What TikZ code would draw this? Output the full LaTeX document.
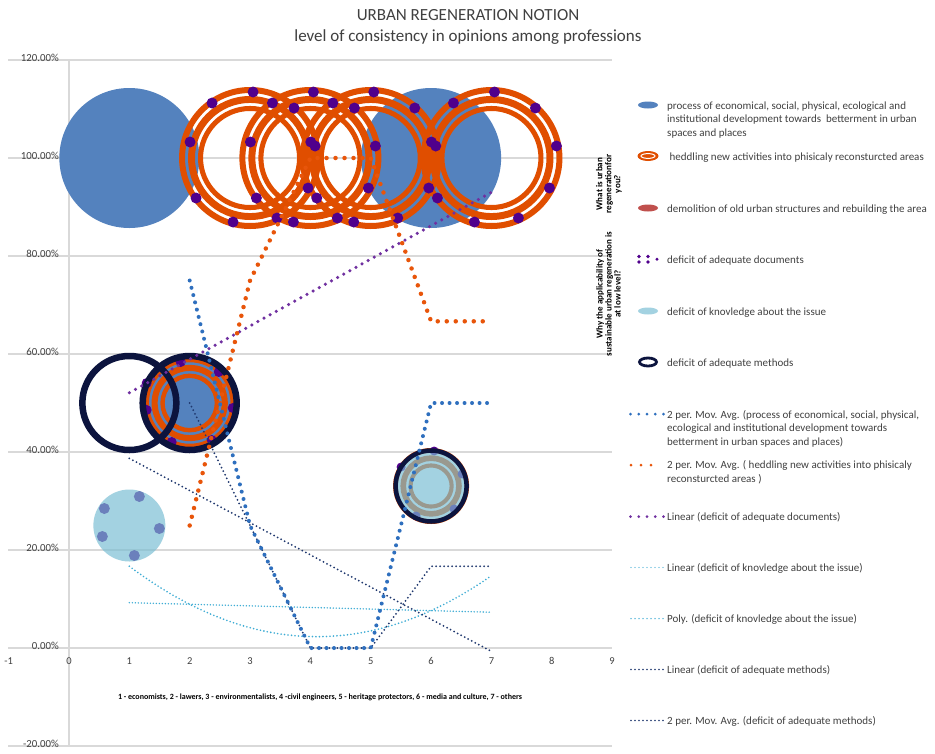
\documentclass[tikz,border=0pt]{standalone}
\usepackage{fontspec}
\setmainfont{Carlito}
\begin{document}
\begin{tikzpicture}[x=1pt,y=-1pt,
  grid/.style={draw=gridc, line width=1.3pt},
  ylab/.style={anchor=base east, text=txc, font=\fontsize{10.8}{12}\selectfont, inner sep=0pt},
  xlab/.style={anchor=base, text=txc, font=\fontsize{10.5}{12}\selectfont, inner sep=0pt},
  leg/.style={anchor=base west, text=txc, font=\fontsize{11}{13.5}\selectfont, inner sep=0pt},
  side/.style={rotate=90, align=center, text=black, font=\bfseries\fontsize{9}{9}\selectfont, inner sep=0pt},
  maB/.style={draw=mabc, line width=4pt, line cap=round, dash pattern=on 0pt off 7.5pt},
  maO/.style={draw=maoc, line width=4.5pt, line cap=round, dash pattern=on 0pt off 9pt},
  linP/.style={draw=plc, line width=3.5pt, line cap=round, dash pattern=on 0pt off 7pt},
  linC/.style={draw=cyc, line width=1.6pt, line cap=round, dash pattern=on 0pt off 3pt},
  linN/.style={draw=nlc, line width=2pt, line cap=round, dash pattern=on 0pt off 4pt},
  navring/.style={draw=nvc}
]
\definecolor{bblue}{RGB}{84,130,190}
\definecolor{oc}{RGB}{224,78,0}
\definecolor{pc}{RGB}{80,0,140}
\definecolor{lbc}{RGB}{120,189,211}
\definecolor{nvc}{RGB}{12,20,62}
\definecolor{rdc}{RGB}{192,80,77}
\definecolor{mabc}{RGB}{46,111,190}
\definecolor{maoc}{RGB}{232,85,10}
\definecolor{plc}{RGB}{112,48,160}
\definecolor{cyc}{RGB}{60,172,212}
\definecolor{nlc}{RGB}{31,56,110}
\definecolor{gridc}{RGB}{217,217,217}
\definecolor{txc}{RGB}{64,64,64}
\newcommand\oring[4]{%
  \pgfmathsetmacro\ot{#3-#4}%
  \pgfmathsetmacro\ra{#3-0.125*\ot}\pgfmathsetmacro\wa{0.25*\ot}%
  \pgfmathsetmacro\rb{#3-0.52*\ot}\pgfmathsetmacro\wb{0.29*\ot}%
  \pgfmathsetmacro\rc{#3-0.895*\ot}\pgfmathsetmacro\wc{0.21*\ot}%
  \draw[oc, line width=\wa pt] (#1,#2) circle[radius=\ra pt];
  \draw[oc, line width=\wb pt] (#1,#2) circle[radius=\rb pt];
  \draw[oc, line width=\wc pt] (#1,#2) circle[radius=\rc pt];
}
\newcommand\pdotsfull[2]{%
  \foreach \dx/\dy in {-38/-55,3/-66,44/-50,65/-12,58/30,27/60,-17/64,-54/40,-60/-16}{%
    \fill[pc] ({#1+(\dx)},{#2+(\dy)}) circle[radius=5.5pt];}%
}
\useasboundingbox (0,0) rectangle (935,753);
\fill[white] (0,0) rectangle (935,753);

% title
\node[text=txc, font=\fontsize{17}{20}\selectfont, anchor=base] (t1) at (468,20) {URBAN REGENERATION NOTION};
\node[text=txc, font=\fontsize{17}{20}\selectfont, anchor=base] (t2) at (468,41) {level of consistency in opinions among professions};

% grid
\foreach \yy/\lab in {60/120.00\%,158/100.00\%,256/80.00\%,354/60.00\%,452/40.00\%,550/20.00\%,648/0.00\%,746/-20.00\%}{%
  \draw[grid] (8,\yy) -- (612,\yy);
  \node[ylab] (yl\yy) at (59,\yy+1) {\lab};
}
\draw[grid] (69,60) -- (69,746);
\foreach \k in {-1,0,1,2,3,4,5,6,7,8,9}{%
  \node[xlab] (xl\k) at ({69+60.35*\k},664) {\k};
}
\node[text=black, font=\bfseries\fontsize{8}{9}\selectfont, anchor=base] (cat) at (320,699.5) {1 - economists, 2 - lawers, 3 - environmentalists, 4 -civil engineers, 5 - heritage protectors, 6 - media and culture, 7 - others};

% blue bubbles
\fill[bblue] (129.35,158) circle[radius=70pt];
\fill[bblue] (431.1,158) circle[radius=70pt];
\fill[bblue] (189.7,403) circle[radius=49.5pt];

% orange rings
\oring{250.05}{158}{71}{47}
\oring{310.4}{158}{71}{47}
\oring{370.75}{158}{71}{47}
\oring{491.45}{158}{71}{47}
\oring{189.7}{403}{46}{25}
\oring{431.1}{486}{38}{18.5}

% purple dots
\pdotsfull{250.05}{158}
\pdotsfull{310.4}{158}
\pdotsfull{370.75}{158}
\pdotsfull{491.45}{158}
\foreach \dx/\dy in {-9/-41,29/-31,43/5,22/37,-18/39,-43/-20,-43/7}{%
  \fill[pc] ({189.7+(\dx)},{403+(\dy)}) circle[radius=5pt];}
\foreach \dx/\dy in {3/-35,-30/-19,31/-12,23/23,-15/30}{%
  \fill[pc] ({431.1+(\dx)},{486+(\dy)}) circle[radius=4.5pt];}
\foreach \dx/\dy in {10/-29,-25/-17,30/3,-27/11,5/30}{%
  \fill[pc] ({129.35+(\dx)},{525.5+(\dy)}) circle[radius=5.5pt];}

% light blue bubbles
\fill[lbc, fill opacity=0.68] (129.35,525.5) circle[radius=36pt];
\fill[lbc, fill opacity=0.68] (431.1,486) circle[radius=36pt];

% navy rings
\draw[navring, line width=6.5pt] (129.35,403) circle[radius=47pt];
\draw[navring, line width=6.5pt] (189.7,403) circle[radius=47pt];
\draw[navring, line width=4.5pt] (431.1,486) circle[radius=35.5pt];

% trend lines
\begin{scope}[shift={(69,648)}, x=60.35pt, y=4.9pt]
  \draw[linC] (1,9.25) -- (7,7.3);
  \draw[linC, line width=1.8pt, dash pattern=on 0pt off 3.5pt] plot[domain=1:7, samples=80, smooth] (\x,{8.286-0.321*(\x-4)+1.488*((\x-4)^2-4)});
  \draw[linN] (1,38.7) -- (7,-0.7);
  \draw[linN] (2,50) -- (3,25) -- (4,0) -- (5,0) -- (6,16.67) -- (7,16.67);
  \draw[linP] (1,52.1) -- (7,93.0);
  \draw[maO] (2,25) -- (3,75) -- (4,100) -- (5,100) -- (6,66.67) -- (7,66.67);
  \draw[maB] (2,75) -- (3,25) -- (4,0) -- (5,0) -- (6,50) -- (7,50);
\end{scope}

% side labels
\node[side] (s1) at (609,184) {What is urban\\regenerationfor\\you?};
\node[side] (s2) at (608.5,294) {Why the applicability of\\sustainable urban regeneration is\\at low level?};

% legend markers
\fill[bblue] (648,105) ellipse[x radius=10pt, y radius=3.5pt];
\fill[oc] (648,156) ellipse[x radius=10.5pt, y radius=5pt];
\draw[white, line width=1pt] (648,156) ellipse[x radius=7pt, y radius=2.4pt];
\fill[rdc] (648,208) ellipse[x radius=10pt, y radius=3.5pt];
\foreach \px/\py/\pr in {639/256.5/1.9,639/262/1.9,648/256.5/1.9,648/262/1.9,657/259.3/1.6}{\fill[pc] (\px,\py) circle[radius=\pr pt];}
\fill[lbc, fill opacity=0.68] (648,311) ellipse[x radius=10pt, y radius=3.5pt];
\draw[nvc, line width=2.8pt] (648,362) ellipse[x radius=8.5pt, y radius=4pt];
\coordinate (m7a) at (630.5,414); \coordinate (m7b) at (663.5,414);
\draw[mabc, line width=3pt, line cap=round, dash pattern=on 0pt off 8.25pt] (m7a) -- (m7b);
\coordinate (m8a) at (631,465); \coordinate (m8b) at (661,465);
\draw[maoc, line width=3pt, line cap=round, dash pattern=on 0pt off 10pt] (m8a) -- (m8b);
\coordinate (m9a) at (630.5,516.5); \coordinate (m9b) at (663.5,516.5);
\draw[plc, line width=3pt, line cap=round, dash pattern=on 0pt off 8.25pt] (m9a) -- (m9b);
\coordinate (m10a) at (631,567.5); \coordinate (m10b) at (663,567.5);
\draw[cyc, line width=1.3pt, line cap=round, dash pattern=on 0pt off 4pt] (m10a) -- (m10b);
\coordinate (m11a) at (631,618.5); \coordinate (m11b) at (663,618.5);
\draw[cyc, line width=1.5pt, line cap=round, dash pattern=on 0pt off 4pt] (m11a) -- (m11b);
\coordinate (m12a) at (631,669.5); \coordinate (m12b) at (663,669.5);
\draw[nlc, line width=1.6pt, line cap=round, dash pattern=on 0pt off 4pt] (m12a) -- (m12b);
\coordinate (m13a) at (631,720.5); \coordinate (m13b) at (663,720.5);
\draw[nlc, line width=1.6pt, line cap=round, dash pattern=on 0pt off 4pt] (m13a) -- (m13b);

% legend text
\node[leg] (l1a) at (667,109) {process of economical, social, physical, ecological and};
\node[leg] (l1b) at (667,122.5) {institutional development towards\ \ betterment in urban};
\node[leg] (l1c) at (667,136) {spaces and places};
\node[leg] (l2) at (667,160) {\ heddling new activities into phisicaly reconsturcted areas};
\node[leg] (l3) at (667,212) {demolition of old urban structures and rebuilding the area};
\node[leg] (l4) at (667,263) {deficit of adequate documents};
\node[leg] (l5) at (667,315) {deficit of knovledge about the issue};
\node[leg] (l6) at (667,366) {deficit of adequate methods};
\node[leg] (l7a) at (667,418) {2 per. Mov. Avg. (process of economical, social, physical,};
\node[leg] (l7b) at (667,431.5) {ecological and institutional development towards};
\node[leg] (l7c) at (667,445) {betterment in urban spaces and places)};
\node[leg] (l8a) at (667,468.5) {2 per. Mov. Avg. ( heddling new activities into phisicaly};
\node[leg] (l8b) at (667,482) {reconsturcted areas )};
\node[leg] (l9) at (667,520.5) {Linear (deficit of adequate documents)};
\node[leg] (l10) at (667,571.5) {Linear (deficit of knovledge about the issue)};
\node[leg] (l11) at (667,622.5) {Poly. (deficit of knovledge about the issue)};
\node[leg] (l12) at (667,673.5) {Linear (deficit of adequate methods)};
\node[leg] (l13) at (667,724.5) {2 per. Mov. Avg. (deficit of adequate methods)};
\end{tikzpicture}
\end{document}
